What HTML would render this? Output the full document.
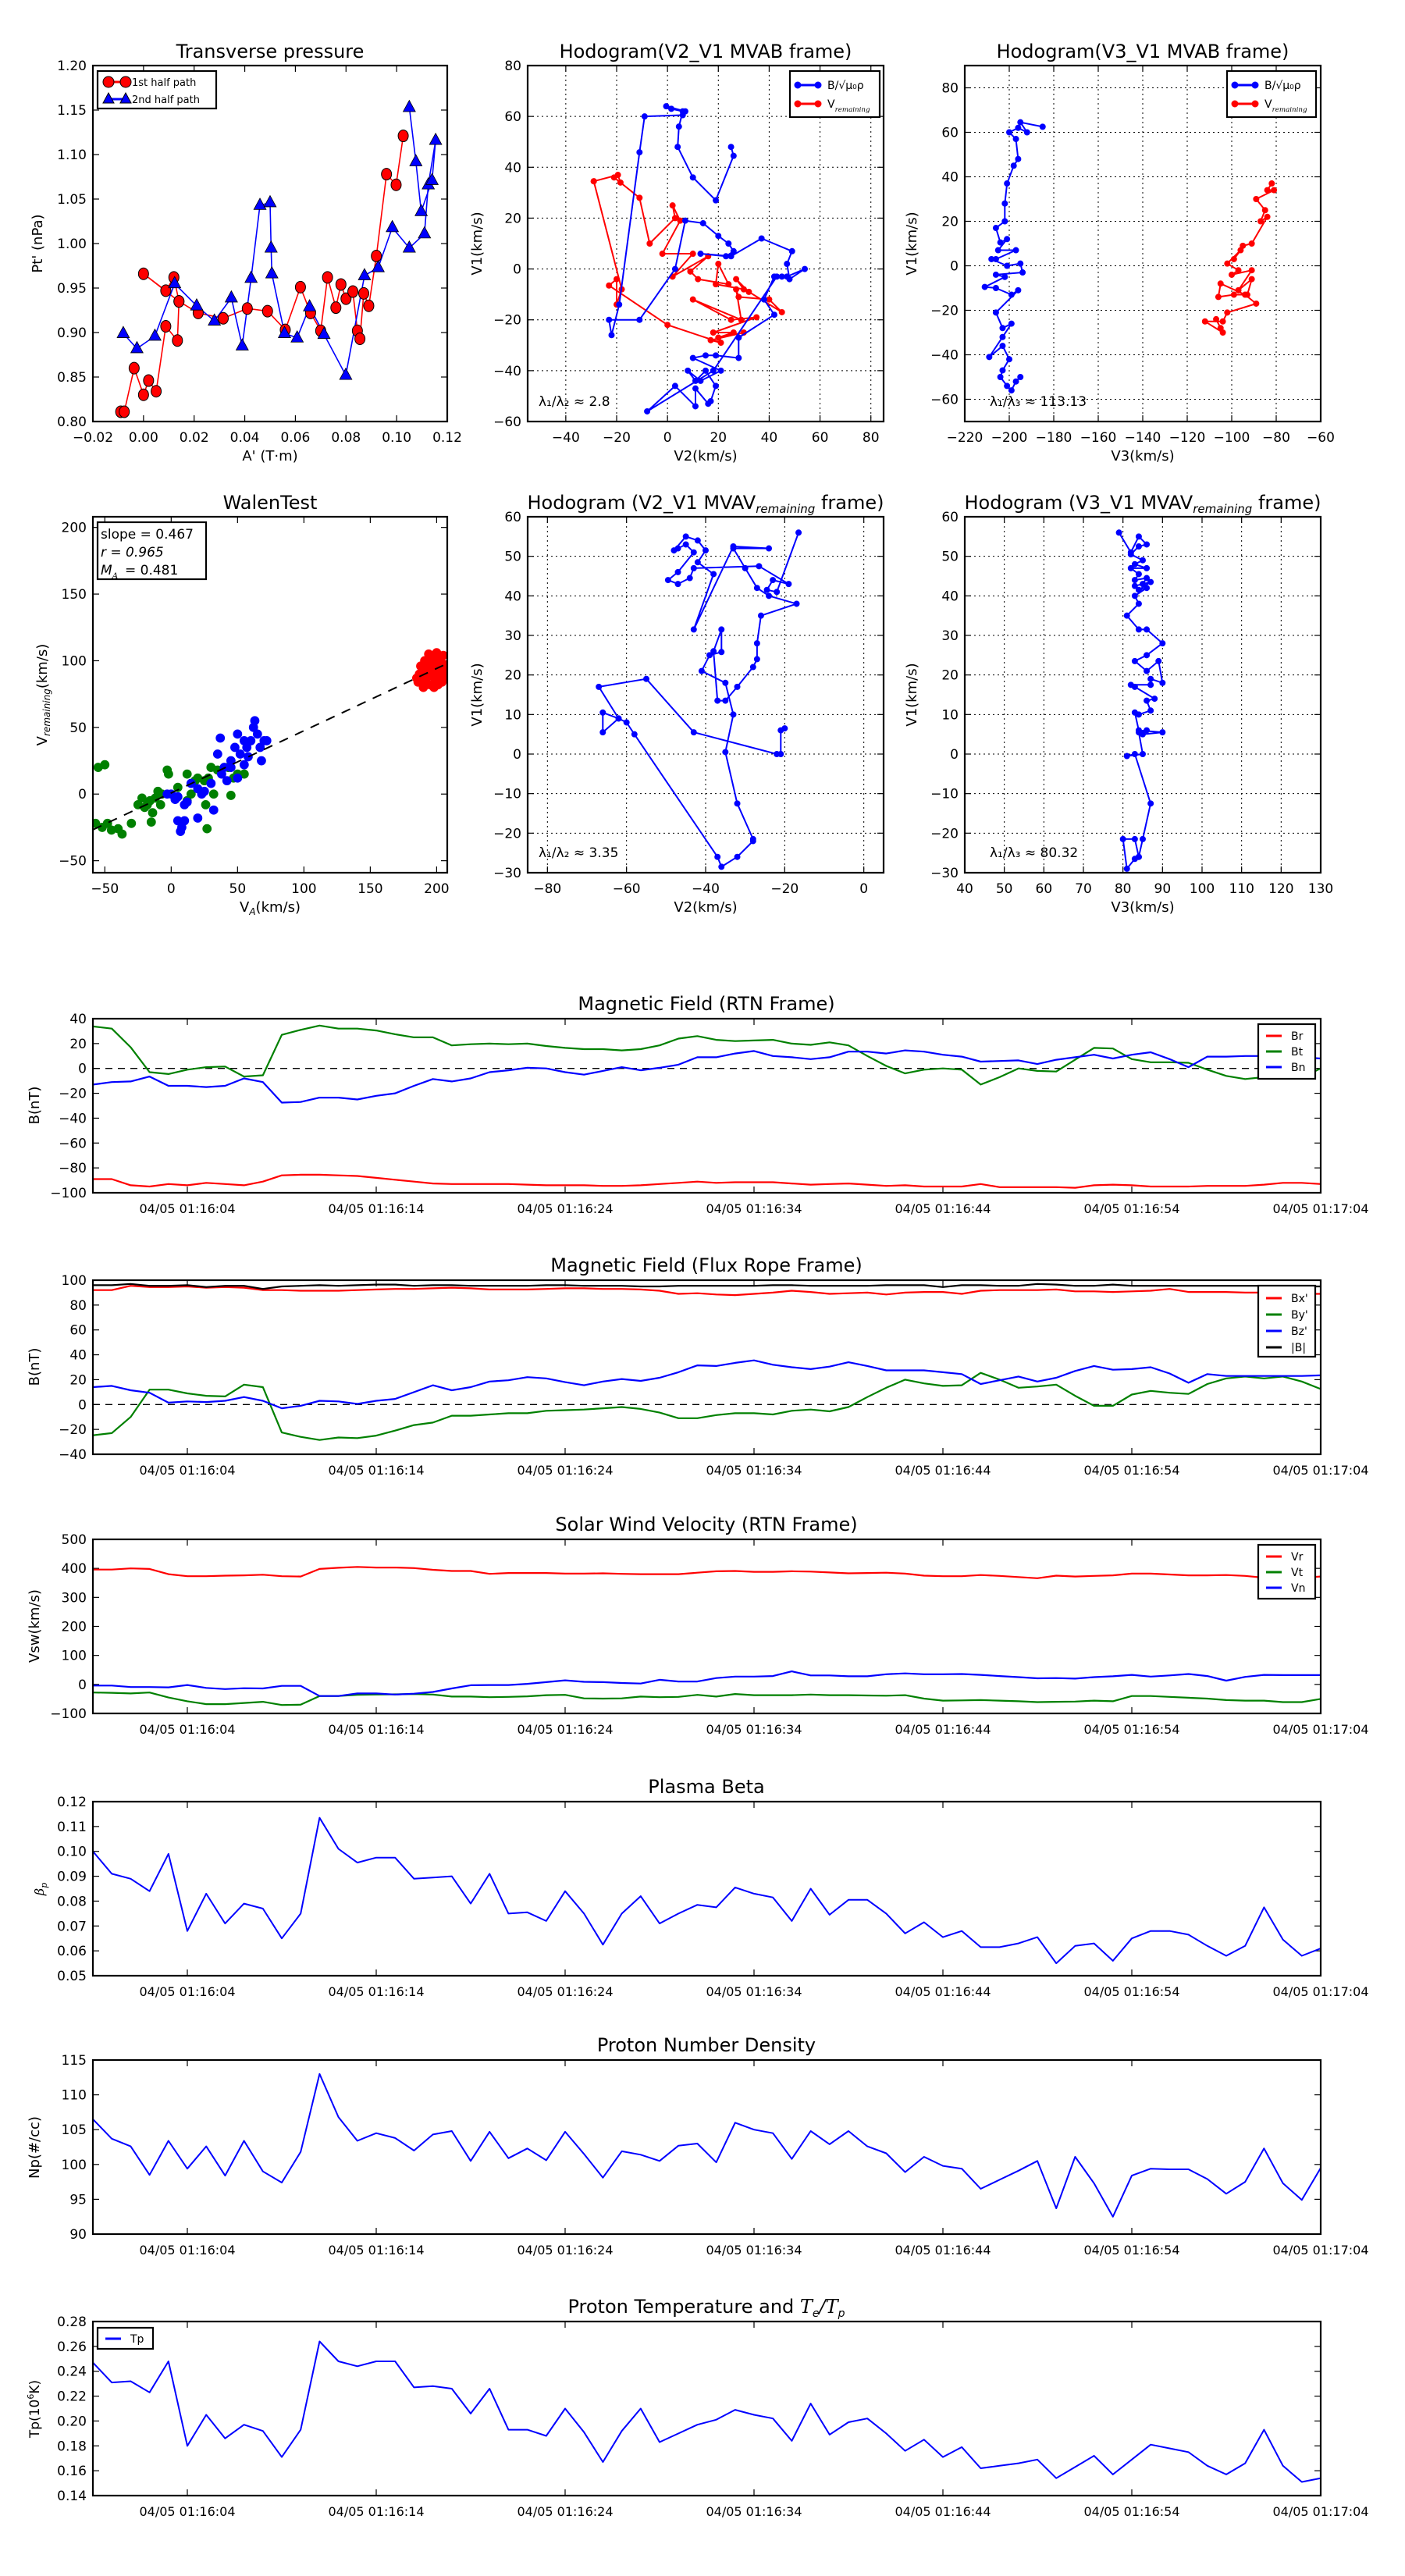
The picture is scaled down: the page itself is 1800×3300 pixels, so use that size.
<!DOCTYPE html>
<html><head><meta charset="utf-8"><title>Flux rope analysis</title>
<style>
html,body{margin:0;padding:0;background:#fff;}
svg{display:block;font-family:"DejaVu Sans","Liberation Sans",sans-serif;}
</style></head>
<body>
<svg id="fig" xmlns="http://www.w3.org/2000/svg" width="1800" height="3300" viewBox="0 0 1800 3300">
<rect x="0" y="0" width="1800" height="3300" fill="#fff"/>
</svg>
<script>
// ---------- time series data (1 s cadence, t = 0..65 s, 01:17:04 at t=65) ----------
const tickSec = [5,15,25,35,45,55,65];
const tickLabels = ["04/05 01:16:04","04/05 01:16:14","04/05 01:16:24","04/05 01:16:34","04/05 01:16:44","04/05 01:16:54","04/05 01:17:04"];
const Br = [-89,-89,-94,-95,-93,-94,-92,-93,-94,-91,-86,-85.5,-85.5,-86,-86.5,-88,-89.5,-91,-92.5,-93,-93,-93,-93,-93.5,-94,-94,-94,-94.5,-94.5,-94,-93,-92,-91,-92,-91.5,-91.5,-91.5,-92.5,-93.5,-93,-92.5,-93.5,-94.5,-94,-95,-95,-95,-93,-95.5,-95.5,-95.5,-95.5,-96,-94,-93.5,-94,-95,-95,-95,-94.5,-94.5,-94.5,-93.5,-92,-92,-93];
const Bt = [33.8,32,17,-3,-4.5,-1,1,1.5,-6.5,-5.5,27,31,34.5,32,32,30.5,27.5,25,25,18.5,19.5,20,19.5,20,18,16.5,15.5,15.5,14.5,15.5,18.5,24,26,23,22,22.5,23,20,19,21,18.5,10,2,-4,-1,0,-1,-13,-7,0,-2,-2.5,7,16.5,16,7.5,5,5,4.5,-1,-6,-8.5,-7,-7,-7.5,0];
const Bn = [-13,-11,-10.5,-6.5,-14,-14,-15,-14,-8,-11,-27.5,-27,-23.5,-23.5,-25,-22,-20,-14,-8.5,-10.5,-8,-3,-1.5,0.5,0,-3,-5,-2,1,-1.5,0.5,3,9,9,12,14,10,9,7.5,9,13.5,13.5,12,14.5,13.5,11,9.5,5.5,6,6.5,3.5,7,9,11,8,11,13,7.5,1,9.5,9.5,10,10,9,9,8];
const Bx = [92,92,95.5,94.5,94.5,95,94,94.5,94,92,92,91.5,91.5,91.5,92,92.5,93,93,93.5,94,93.5,92.5,92.5,92.5,93,93.5,93.5,93,93,92.5,91.5,89,89.5,88.5,88,89,90,91.5,90.5,89,89.5,90,88.5,90,90.5,90.5,89,91.5,92,92,92,92.5,91,91,90.5,91,91.5,93,90.5,90.5,90.5,90,90,89.5,89,89];
const By = [-24.75,-23,-10,12,12,9,7,6.5,16,14,-22.5,-26,-28.5,-26.5,-27,-25,-21,-16.5,-14.5,-9,-9,-8,-7,-7,-5,-4.5,-4,-3,-2,-3.5,-6.5,-11,-11,-8.5,-7,-7,-8,-5,-4,-5.5,-2,6,13.5,20,17,15,15.5,25.5,20,13.5,14.5,16,7,-1,-1,8,11,9.5,8.5,16.5,21,22.5,21,22.5,18.5,12.5];
const Bz = [14,15,11.5,9.5,1.5,2.5,2,3,6,3,-3,-1,3,2.5,0.5,3,4.5,10,15.5,11.5,14,18.5,19.5,22,21,18,15.5,18.5,20.5,19,21.5,26,31.5,31,33.5,35.5,32,30,28.5,30.5,34,31,27.5,27.5,27.5,26,24.5,16.5,19.5,22.5,18.5,21.5,27,31,28,28.5,30,25,17.5,24.5,23,23,23,23,23,23.5];
const Bmag = [96,96,97,95.5,95.5,96,94.5,95.5,95.5,93,95,95.5,96,95.5,96,96.5,96.5,95.5,96,96,95.5,95.5,95.5,95.5,96,96,95.5,95.5,95.5,95,95,95.5,95.5,95.5,95.5,95.5,96,96,95.5,95.5,95.5,95.5,96,96,96,94.5,96,96,95.5,95.5,97,96.5,95.5,95.5,96.5,95.5,95.5,95.5,95.5,95.5,95.5,95.5,95.5,95,95,95];
const Vr = [396,396,400,398,380,373,373,375,376,378,373,372,398,402,405,403,403,401,395,391,391,381,384,384,384,382,382,383,381,380,380,380,385,390,391,388,388,390,389,386,383,384,385,382,375,373,373,377,374,370,366,375,372,374,376,382,382,379,376,376,377,374,368,368,368,372];
const Vt = [-28,-29,-31,-28,-45,-58,-68,-68,-64,-60,-71,-70,-40,-40,-36,-35,-34,-33,-35,-42,-42,-44,-43,-41,-37,-36,-48,-49,-48,-42,-44,-43,-36,-42,-33,-37,-37,-37,-35,-37,-37,-38,-39,-37,-49,-56,-55,-54,-56,-58,-61,-60,-59,-56,-58,-40,-40,-43,-46,-49,-54,-56,-56,-61,-61,-50];
const Vn = [-4,-4,-9,-9,-10,-2,-12,-16,-13,-14,-5,-5,-40,-40,-31,-31,-35,-32,-26,-14,-3,-2,-2,2,8,14,9,8,5,3,16,10,10,22,27,27,29,45,31,31,28,28,35,38,35,35,36,33,29,25,21,22,20,25,28,33,27,31,36,29,13,26,33,32,32,32];
const beta = [0.100,0.091,0.089,0.084,0.099,0.068,0.083,0.071,0.079,0.077,0.065,0.075,0.1135,0.101,0.0955,0.0975,0.0975,0.089,0.0895,0.090,0.079,0.091,0.075,0.0755,0.072,0.084,0.075,0.0625,0.075,0.082,0.071,0.075,0.0785,0.0775,0.0855,0.083,0.0815,0.072,0.085,0.0745,0.0805,0.0805,0.075,0.067,0.0715,0.0655,0.068,0.0615,0.0615,0.063,0.0655,0.055,0.062,0.063,0.056,0.065,0.068,0.068,0.0665,0.062,0.058,0.062,0.0775,0.0645,0.058,0.061];
const Np = [106.5,103.7,102.6,98.5,103.4,99.4,102.6,98.4,103.4,99,97.4,101.8,113,106.8,103.4,104.5,103.8,102,104.3,104.8,100.5,104.7,100.9,102.3,100.6,104.7,101.5,98.1,101.9,101.4,100.5,102.7,103,100.3,106,105,104.5,100.8,104.8,102.9,104.8,102.6,101.6,98.9,101.1,99.8,99.4,96.5,97.8,99.1,100.5,93.7,101.1,97.3,92.5,98.4,99.4,99.3,99.3,97.9,95.8,97.5,102.3,97.3,94.9,99.5];
const Tp = [0.247,0.231,0.232,0.223,0.248,0.180,0.205,0.186,0.197,0.192,0.171,0.193,0.264,0.248,0.244,0.248,0.248,0.227,0.228,0.226,0.206,0.226,0.193,0.193,0.188,0.210,0.191,0.167,0.192,0.210,0.183,0.190,0.197,0.201,0.209,0.205,0.202,0.184,0.214,0.189,0.199,0.202,0.190,0.176,0.185,0.171,0.179,0.162,0.164,0.166,0.169,0.154,0.163,0.172,0.157,0.169,0.181,0.178,0.175,0.164,0.157,0.166,0.193,0.164,0.151,0.154];

// ---------- transverse pressure ----------
const ptRedA = [-0.009,-0.0076,-0.0037,0.0,0.002,0.005,0.0088,0.0134,0.014,0.012,0.0088,0.0,0.014,0.0216,0.0315,0.041,0.049,0.056,0.062,0.066,0.070,0.0727,0.076,0.078,0.080,0.0827,0.0845,0.0855,0.087,0.089,0.092,0.096,0.0998,0.1026];
const ptRedP = [0.811,0.811,0.860,0.830,0.846,0.834,0.907,0.891,0.935,0.962,0.947,0.966,0.935,0.922,0.916,0.927,0.924,0.903,0.951,0.922,0.902,0.962,0.928,0.954,0.938,0.946,0.902,0.893,0.944,0.930,0.986,1.078,1.066,1.121];
const ptBlueA = [-0.008,-0.0026,0.0045,0.0123,0.021,0.028,0.0347,0.039,0.0425,0.046,0.050,0.0504,0.0507,0.0557,0.0607,0.0656,0.0713,0.0799,0.0873,0.0927,0.0983,0.105,0.111,0.1125,0.1154,0.114,0.1097,0.1076,0.105];
const ptBlueP = [0.899,0.882,0.896,0.955,0.930,0.913,0.939,0.885,0.961,1.043,1.046,0.995,0.966,0.899,0.894,0.929,0.898,0.852,0.964,0.973,1.018,0.995,1.011,1.066,1.116,1.071,1.036,1.092,1.153];

// ---------- hodogram MVAB V2-V1 ----------
const hb2B_v2 = [25,26,19,10,4,4.5,6,1.5,-0.5,7,6,-9,-11,-19,-22,-23,-11,3,7,14,20,24,26,23,13,25,37,49,47,48,54,47,42,38,42,28,28,19,15,10,21,13,8,11,15,19,17,16,11,11,3,-8,18,43,45];
const hb2B_v1 = [48,44.5,27,36,48,56,62,63,64,62,60.5,60,45.9,-14,-26,-20,-20,0,19,18,13,10,7,5,6,5,12,7,2,-4,0,-3,-3,-12,-18,-27,-35,-34,-34,-35,-40,-44,-40,-44,-40,-46,-52,-53,-47,-54,-46,-56,-40,-3,-3];
const hb2R_v2 = [-29,-19.5,-18.5,-21,-11,-7,3,2,5,-2,10,2,16,9,12,24,20,19,30,27,32,45,40,28,27,29,10,25,35,18,26,20,30,17,21,0,-23,-20,-20,-18,-29];
const hb2R_v1 = [34.5,37,34,36,28,10,20,25,19,6,6,-3,5,-1,-4,-6,2,-6,-8,-4,-9,-17,-12,-11,-8,-20,-12,-20,-19,-25,-25,-27,-25,-28,-29,-22,-6.5,-4,-14,-8,34.5];

// ---------- hodogram MVAB V3-V1 ----------
const hb3B_v3 = [-185,-195,-192,-196,-200,-197,-196,-198,-201,-202,-202,-206,-204,-201,-205,-197,-206,-208,-201,-195,-194,-206,-202,-211,-206,-199,-196,-206,-203,-199,-203,-209,-203,-200,-203,-204,-201,-199,-197,-195];
const hb3B_v1 = [62.5,64.5,60,62,60,57,48,45,37,28,20,17,10.5,12,7,7,3,3,0,1,-3,-4,-5,-9.5,-10,-13,-11,-21,-28,-26,-32,-41,-36,-42,-47,-50,-54,-56,-52,-50];
const hb3R_v3 = [-82,-84,-81,-89,-85,-87,-84,-91,-95,-99,-96,-102,-97,-100,-91,-97,-91,-93,-99,-106,-105,-94,-89,-102,-104,-112,-104,-107,-105];
const hb3R_v1 = [37,34,34,30,25,20,22,10,9,3,7,1,-2,-4,-2,-11,-6,-13,-13,-14,-8,-13,-17,-21,-25,-25,-30,-24,-28];

// ---------- Walen test ----------
const walenSlope = 0.467;
const walenIntercept = 0.8;
const walenGreenVA = [-55,-50,-57,-52,-48,-45,-40,-37,-30,-15,-20,-22,-18,-16,-12,-10,-7,-3,-2,5,12,15,18,20,26,27,30,32,35,43,45,47,50,55,-14,-8,-25,12,25,28];
const walenGreenV = [20,22,-22,-25,-22,-27,-26,-30,-22,-21,-10,-3,-8,-5,-3,2,0,18,15,5,15,0,10,12,-8,-26,20,0,18,20,-1,12,15,15,-14,-8,-8,-5,10,12];
const walenBlueVA = [5,5,7,8,10,12,20,0,-3,3,20,23,30,32,35,37,40,45,45,48,50,52,55,55,57,60,62,63,65,67,70,68,72,42,38,58,50,15,25,10];
const walenBlueV = [-2,-20,-28,-25,-20,-6,-18,0,0,-4,4,0,8,-12,30,42,20,25,20,35,45,30,22,40,35,40,50,55,45,35,40,25,40,10,15,28,12,8,2,-8];
const walenRedVA = [188,190,192,194,196,198,200,202,204,206,186,190,193,197,199,201,203,205,188,195,200,205,191,196,202,187,194,199,204,207,185,198];
const walenRedV = [88,92,85,96,100,104,106,98,92,88,84,80,90,94,86,82,100,104,96,82,92,95,100,89,88,90,105,99,84,97,87,80];

// ---------- hodogram MVAV V2-V1 ----------
const hv2_v2 = [-16.5,-22,-24.5,-23,-19,-26.5,-43,-44,-47,-49.5,-47,-43,-45,-47,-48,-45,-42,-40,-42,-38,-43,-33,-24,-33,-30,-27,-24,-17,-26,-27,-27,-28,-32,-35,-37,-38,-36,-36,-39,-41,-35,-33,-35,-32,-28,-28,-32,-36,-37,-58,-60,-62,-66,-66,-62,-67,-55,-43,-22,-21,-21,-20];
const hv2_v1 = [56,41,41.5,44,43,47.5,47,44.5,43,44,46,51,53,52,51.5,55,54,51.5,48.5,45.5,31.5,52.5,52,52,47,42,40,38,35,28,24,22,17,13.5,13.5,26,31.5,25.8,25,21,18,10,0.5,-12.5,-21.5,-22,-26,-28.5,-26,5,8,9,5.5,10.5,9,17,19,5.5,0,0,6,6.5];

// ---------- hodogram MVAV V3-V1 ----------
const hv3_v3 = [79,82,84,86,84,82,85,83,86,82,84,83,86,85,83,87,84,86,83,84,81,84,86,90,86,83,86,89,90,87,87,82,83,88,86,87,84,83,84,90,85,86,84,85,81,83,87,85,84,83,81,80,83,84];
const hv3_v1 = [56,51,55,53,52.5,50.5,49,48,47,47,45.5,44,44.5,43,42.5,43.5,41.5,42,40,38,35,31.5,31.5,28,25,23.5,21,23.5,18,19,17.5,17.5,17,14,13.5,11,10,10.5,6,5.5,5,6,5.5,0,-0.5,0,-12.5,-21.5,-26,-26.5,-29,-21.5,-21.5,-26];

// ---------------- drawing helpers ----------------
const NS = "http://www.w3.org/2000/svg";
const svg = document.getElementById("fig");
function el(tag, attrs, parent, name, inter) {
  const e = document.createElementNS(NS, tag);
  for (const k in attrs) e.setAttribute(k, attrs[k]);
  
  
  (parent || svg).appendChild(e);
  return e;
}
function txt(s, attrs, parent, name) {
  const e = el("text", attrs, parent, name, false);
  e.textContent = s;
  return e;
}
function fmtNum(v, d) {
  let s = v.toFixed(d);
  if (parseFloat(s) === 0) s = (0).toFixed(d);
  return s.replace("-", "\u2212");
}
function axes(o) {
  const g = el("g", {}, svg, o.name, false);
  const sx = v => o.x + (v - o.xd[0]) / (o.xd[1] - o.xd[0]) * o.w;
  const sy = v => o.y + o.h - (v - o.yd[0]) / (o.yd[1] - o.yd[0]) * o.h;
  const tl = 8;
  if (o.grid) {
    o.xt.forEach(v => { el("line", {x1: sx(v), x2: sx(v), y1: o.y, y2: o.y + o.h, stroke: "#000", "stroke-width": 1, "stroke-dasharray": "2,4"}, g, "x-grid-line", false); });
    o.yt.forEach(v => { el("line", {x1: o.x, x2: o.x + o.w, y1: sy(v), y2: sy(v), stroke: "#000", "stroke-width": 1, "stroke-dasharray": "2,4"}, g, "y-grid-line", false); });
  }
  o.xt.forEach((v, i) => {
    const X = sx(v);
    el("line", {x1: X, x2: X, y1: o.y + o.h, y2: o.y + o.h - tl, stroke: "#000", "stroke-width": 1.2}, g, "x-tick", false);
    el("line", {x1: X, x2: X, y1: o.y, y2: o.y + tl, stroke: "#000", "stroke-width": 1.2}, g, "x-tick-top", false);
    txt(o.xl(v, i), {x: X, y: o.y + o.h + 26, "text-anchor": "middle", "font-size": o.xfs || 17}, g, "x-tick-label");
  });
  o.yt.forEach((v, i) => {
    const Y = sy(v);
    el("line", {x1: o.x, x2: o.x + tl, y1: Y, y2: Y, stroke: "#000", "stroke-width": 1.2}, g, "y-tick", false);
    el("line", {x1: o.x + o.w, x2: o.x + o.w - tl, y1: Y, y2: Y, stroke: "#000", "stroke-width": 1.2}, g, "y-tick-right", false);
    txt(o.yl(v, i), {x: o.x - 8, y: Y + 6, "text-anchor": "end", "font-size": 17}, g, "y-tick-label");
  });
  const clipId = "clip_" + o.name;
  const cp = el("clipPath", {id: clipId}, g, "clip-region", false);
  el("rect", {x: o.x, y: o.y, width: o.w, height: o.h}, cp, "clip-rect", false);
  const plot = el("g", {"clip-path": "url(#" + clipId + ")"}, g, "plot-area", false);
  el("rect", {x: o.x, y: o.y, width: o.w, height: o.h, fill: "none", stroke: "#000", "stroke-width": 2.2}, g, "axes-frame", false);
  return {g, plot, sx, sy};
}
function range(a, b, s) { const r = []; for (let v = a; v <= b + 1e-9; v += s) r.push(+v.toFixed(6)); return r; }
function linePath(xs, ys, A) {
  let d = "";
  for (let i = 0; i < Math.min(xs.length, ys.length); i++) d += (i ? "L" : "M") + A.sx(xs[i]).toFixed(1) + "," + A.sy(ys[i]).toFixed(1);
  return d;
}
function series(A, xs, ys, color, name, w) {
  return el("path", {d: linePath(xs, ys, A), fill: "none", stroke: color, "stroke-width": w || 2, "stroke-linejoin": "round"}, A.plot, name, false);
}
function dots(A, xs, ys, color, r, name) {
  for (let i = 0; i < Math.min(xs.length, ys.length); i++) {
    el("circle", {cx: A.sx(xs[i]), cy: A.sy(ys[i]), r: r, fill: color, stroke: color, "stroke-width": 0.8}, A.plot, name, false);
  }
}
function tris(A, xs, ys, color, s, name) {
  for (let i = 0; i < Math.min(xs.length, ys.length); i++) {
    const X = A.sx(xs[i]), Y = A.sy(ys[i]);
    el("polygon", {points: `${X},${Y - s} ${X - s * 0.87},${Y + s * 0.6} ${X + s * 0.87},${Y + s * 0.6}`, fill: color, stroke: "#000", "stroke-width": 0.8}, A.plot, name, false);
  }
}
function title(s, cx, y, name) { return txt(s, {x: cx, y: y, "text-anchor": "middle", "font-size": 24}, svg, name); }
function ylab(s, x, cy, name, fs) { return txt(s, {x: x, y: cy, "text-anchor": "middle", "font-size": fs || 18, transform: `rotate(-90 ${x} ${cy})`}, svg, name); }
function xlab(s, cx, y, name) { return txt(s, {x: cx, y: y, "text-anchor": "middle", "font-size": 18}, svg, name); }
function withSub(parent, base, sub, name, attrs) {
  const t = el("text", attrs, parent, name, false);
  const a = document.createElementNS(NS, "tspan"); a.textContent = base; t.appendChild(a);
  const b = document.createElementNS(NS, "tspan"); b.textContent = sub;
  b.setAttribute("font-size", "0.62em"); b.setAttribute("font-style", "italic"); b.setAttribute("font-family", "DejaVu Serif, serif"); b.setAttribute("dy", "5");
  t.appendChild(b);
  return t;
}
function legendBox(x, y, w, h, items, name, lw) {
  const g = el("g", {}, svg, name, false);
  el("rect", {x: x, y: y, width: w, height: h, fill: "#fff", stroke: "#000", "stroke-width": 2.2}, g, "legend-frame", false);
  items.forEach((it, i) => {
    const Y = y + it.dy;
    el("line", {x1: x + 10, x2: x + 10 + (lw || 24), y1: Y, y2: Y, stroke: it.c, "stroke-width": 3}, g, "legend-line", false);
    if (it.marker === "o") { el("circle", {cx: x + 10, cy: Y, r: it.r || 4, fill: it.c, stroke: it.c}, g, "legend-marker", false); el("circle", {cx: x + 10 + (lw || 24), cy: Y, r: it.r || 4, fill: it.c, stroke: it.c}, g, "legend-marker", false); }
    if (it.marker === "oc") { el("circle", {cx: x + 14, cy: Y, r: 7, fill: it.c, stroke: "#000"}, g, "legend-marker", false); el("circle", {cx: x + 36, cy: Y, r: 7, fill: it.c, stroke: "#000"}, g, "legend-marker", false); }
    if (it.marker === "t") { [x + 14, x + 36].forEach(X => { el("polygon", {points: `${X},${Y - 8} ${X - 7},${Y + 5} ${X + 7},${Y + 5}`, fill: it.c, stroke: "#000"}, g, "legend-marker", false); }); }
    if (it.sub) withSub(g, it.label, it.sub, "legend-label", {x: x + 10 + (lw || 24) + 12, y: Y + 5, "font-size": it.fs || 14});
    else txt(it.label, {x: x + 10 + (lw || 24) + 12, y: Y + 5, "font-size": it.fs || 14}, g, "legend-label");
  });
  return g;
}

// ================= ROW 1 =================
// Transverse pressure
const A1 = axes({name: "transverse-pressure-axes", x: 119, y: 84, w: 454, h: 456, xd: [-0.02, 0.12], yd: [0.80, 1.20],
  xt: range(-0.02, 0.12, 0.02), yt: range(0.80, 1.20, 0.05), xl: v => fmtNum(v, 2), yl: v => fmtNum(v, 2)});
series(A1, ptRedA, ptRedP, "#ff0000", "first-half-path-line", 1.6);
series(A1, ptBlueA, ptBlueP, "#0000ff", "second-half-path-line", 1.6);
A1.plot.setAttribute("data-keep", "1");
(function () { // markers
  for (let i = 0; i < ptRedA.length; i++) {
    el("ellipse", {cx: A1.sx(ptRedA[i]), cy: A1.sy(ptRedP[i]), rx: 6.5, ry: 7.5, fill: "#ff0000", stroke: "#000", "stroke-width": 1}, A1.plot, "first-half-point", false);
  }
})();
tris(A1, ptBlueA, ptBlueP, "#0000ff", 9, "second-half-point");
title("Transverse pressure", 346, 74, "transverse-pressure-title");
ylab("Pt' (nPa)", 54, 312, "pt-y-axis-title");
xlab("A' (T\u00b7m)", 346, 590, "a-prime-x-axis-title");
legendBox(125, 91, 152, 48, [{c: "#ff0000", marker: "oc", label: "1st half path", dy: 14, fs: 13}, {c: "#0000ff", marker: "t", label: "2nd half path", dy: 36, fs: 13}], "pressure-legend", 22);

// Hodogram MVAB V2-V1
const A2 = axes({name: "hodogram-v2-v1-mvab-axes", x: 676, y: 84, w: 456, h: 456, xd: [-55, 85], yd: [-60, 80], grid: true,
  xt: range(-40, 80, 20), yt: range(-60, 80, 20), xl: v => fmtNum(v, 0), yl: v => fmtNum(v, 0)});
series(A2, hb2R_v2, hb2R_v1, "#ff0000", "v-remaining-path", 2);
dots(A2, hb2R_v2, hb2R_v1, "#ff0000", 3.6, "v-remaining-point");
series(A2, hb2B_v2, hb2B_v1, "#0000ff", "b-alfven-path", 2);
dots(A2, hb2B_v2, hb2B_v1, "#0000ff", 3.6, "b-alfven-point");
title("Hodogram(V2_V1 MVAB frame)", 904, 74, "hodogram-mvab-v2-title");
ylab("V1(km/s)", 617, 312, "v1-y-axis-title");
xlab("V2(km/s)", 904, 590, "v2-x-axis-title");
legendBox(1012, 91, 115, 59, [{c: "#0000ff", marker: "o", label: "B/\u221a\u03bc\u2080\u03c1", dy: 18}, {c: "#ff0000", marker: "o", label: "V", sub: "remaining", dy: 42}], "hodogram-mvab-v2-legend", 26);
withSub(svg, "\u03bb\u2081/\u03bb\u2082 \u2248 2.8", "", "eigen-ratio-mvab-v2", {x: 690, y: 520, "font-size": 17});

// Hodogram MVAB V3-V1
const A3 = axes({name: "hodogram-v3-v1-mvab-axes", x: 1236, y: 84, w: 456, h: 456, xd: [-220, -60], yd: [-70, 90], grid: true,
  xt: range(-220, -60, 20), yt: range(-60, 80, 20), xl: v => fmtNum(v, 0), yl: v => fmtNum(v, 0)});
series(A3, hb3R_v3, hb3R_v1, "#ff0000", "v-remaining-path", 2);
dots(A3, hb3R_v3, hb3R_v1, "#ff0000", 3.6, "v-remaining-point");
series(A3, hb3B_v3, hb3B_v1, "#0000ff", "b-alfven-path", 2);
dots(A3, hb3B_v3, hb3B_v1, "#0000ff", 3.6, "b-alfven-point");
title("Hodogram(V3_V1 MVAB frame)", 1464, 74, "hodogram-mvab-v3-title");
ylab("V1(km/s)", 1174, 312, "v1-y-axis-title");
xlab("V3(km/s)", 1464, 590, "v3-x-axis-title");
legendBox(1572, 91, 114, 59, [{c: "#0000ff", marker: "o", label: "B/\u221a\u03bc\u2080\u03c1", dy: 18}, {c: "#ff0000", marker: "o", label: "V", sub: "remaining", dy: 42}], "hodogram-mvab-v3-legend", 26);
txt("\u03bb\u2081/\u03bb\u2083 \u2248 113.13", {x: 1268, y: 520, "font-size": 17}, svg, "eigen-ratio-mvab-v3");

// ================= ROW 2 =================
const A4 = axes({name: "walen-test-axes", x: 119, y: 662, w: 454, h: 456, xd: [-59, 208], yd: [-59, 208],
  xt: range(-50, 200, 50), yt: range(-50, 200, 50), xl: v => fmtNum(v, 0), yl: v => fmtNum(v, 0)});
dots(A4, walenGreenVA, walenGreenV, "#008000", 5.5, "walen-green-point");
dots(A4, walenBlueVA, walenBlueV, "#0000ff", 5.5, "walen-blue-point");
dots(A4, walenRedVA, walenRedV, "#ff0000", 5.5, "walen-red-point");
el("line", {x1: A4.sx(-59), y1: A4.sy(walenSlope * -59 + walenIntercept), x2: A4.sx(205), y2: A4.sy(walenSlope * 205 + walenIntercept), stroke: "#000", "stroke-width": 2, "stroke-dasharray": "12,10"}, A4.plot, "walen-fit-line", false);
title("WalenTest", 346, 652, "walen-test-title");
(function () {
  const t = el("text", {x: 60, y: 890, "text-anchor": "middle", "font-size": 18, transform: "rotate(-90 60 890)"}, svg, "walen-y-axis-title", false);
  const a = document.createElementNS(NS, "tspan"); a.textContent = "V"; t.appendChild(a);
  const b = document.createElementNS(NS, "tspan"); b.textContent = "remaining"; b.setAttribute("font-size", "12"); b.setAttribute("font-style", "italic"); b.setAttribute("dy", "4"); t.appendChild(b);
  const c = document.createElementNS(NS, "tspan"); c.textContent = "(km/s)"; c.setAttribute("dy", "-4"); t.appendChild(c);
})();
(function () {
  const t = el("text", {x: 346, y: 1168, "text-anchor": "middle", "font-size": 18}, svg, "walen-x-axis-title", false);
  const a = document.createElementNS(NS, "tspan"); a.textContent = "V"; t.appendChild(a);
  const b = document.createElementNS(NS, "tspan"); b.textContent = "A"; b.setAttribute("font-size", "12"); b.setAttribute("font-style", "italic"); b.setAttribute("dy", "4"); t.appendChild(b);
  const c = document.createElementNS(NS, "tspan"); c.textContent = "(km/s)"; c.setAttribute("dy", "-4"); t.appendChild(c);
})();
(function () {
  const g = el("g", {}, svg, "walen-stats-box", false);
  el("rect", {x: 125, y: 669, width: 139, height: 73, fill: "#fff", stroke: "#000", "stroke-width": 2.2}, g, "stats-frame", false);
  txt("slope = 0.467", {x: 129, y: 690, "font-size": 17}, g, "slope-text");
  txt("r = 0.965", {x: 129, y: 713, "font-size": 17, "font-style": "italic"}, g, "correlation-text");
  withSub(g, "M", "A", "alfven-mach-text", {x: 129, y: 736, "font-size": 17, "font-style": "italic"});
  txt("= 0.481", {x: 160, y: 736, "font-size": 17}, g, "alfven-mach-value");
})();

const A5 = axes({name: "hodogram-v2-v1-mvav-axes", x: 676, y: 662, w: 456, h: 456, xd: [-85, 5], yd: [-30, 60], grid: true,
  xt: range(-80, 0, 20), yt: range(-30, 60, 10), xl: v => fmtNum(v, 0), yl: v => fmtNum(v, 0)});
series(A5, hv2_v2, hv2_v1, "#0000ff", "mvav-v2-path", 2);
dots(A5, hv2_v2, hv2_v1, "#0000ff", 3.6, "mvav-v2-point");
(function () {
  const t = el("text", {x: 904, y: 652, "text-anchor": "middle", "font-size": 24}, svg, "hodogram-mvav-v2-title", false);
  const a = document.createElementNS(NS, "tspan"); a.textContent = "Hodogram (V2_V1 MVAV"; t.appendChild(a);
  const b = document.createElementNS(NS, "tspan"); b.textContent = "remaining"; b.setAttribute("font-size", "15"); b.setAttribute("font-style", "italic"); b.setAttribute("dy", "5"); t.appendChild(b);
  const c = document.createElementNS(NS, "tspan"); c.textContent = " frame)"; c.setAttribute("dy", "-5"); t.appendChild(c);
})();
ylab("V1(km/s)", 617, 890, "v1-y-axis-title");
xlab("V2(km/s)", 904, 1168, "v2-x-axis-title");
txt("\u03bb\u2081/\u03bb\u2082 \u2248 3.35", {x: 690, y: 1098, "font-size": 17}, svg, "eigen-ratio-mvav-v2");

const A6 = axes({name: "hodogram-v3-v1-mvav-axes", x: 1236, y: 662, w: 456, h: 456, xd: [40, 130], yd: [-30, 60], grid: true,
  xt: range(40, 130, 10), yt: range(-30, 60, 10), xl: v => fmtNum(v, 0), yl: v => fmtNum(v, 0)});
series(A6, hv3_v3, hv3_v1, "#0000ff", "mvav-v3-path", 2);
dots(A6, hv3_v3, hv3_v1, "#0000ff", 3.6, "mvav-v3-point");
(function () {
  const t = el("text", {x: 1464, y: 652, "text-anchor": "middle", "font-size": 24}, svg, "hodogram-mvav-v3-title", false);
  const a = document.createElementNS(NS, "tspan"); a.textContent = "Hodogram (V3_V1 MVAV"; t.appendChild(a);
  const b = document.createElementNS(NS, "tspan"); b.textContent = "remaining"; b.setAttribute("font-size", "15"); b.setAttribute("font-style", "italic"); b.setAttribute("dy", "5"); t.appendChild(b);
  const c = document.createElementNS(NS, "tspan"); c.textContent = " frame)"; c.setAttribute("dy", "-5"); t.appendChild(c);
})();
ylab("V1(km/s)", 1174, 890, "v1-y-axis-title");
xlab("V3(km/s)", 1464, 1168, "v3-x-axis-title");
txt("\u03bb\u2081/\u03bb\u2083 \u2248 80.32", {x: 1268, y: 1098, "font-size": 17}, svg, "eigen-ratio-mvav-v3");

// ================= TIME SERIES =================
const T = Br.map((_, i) => i);
function tsAxes(name, top, yd, yt, dec) {
  return axes({name: name, x: 119, y: top, w: 1573, h: 223, xd: [0, 65], yd: yd, xt: tickSec, yt: yt,
    xl: (v, i) => tickLabels[i], yl: v => fmtNum(v, dec), xfs: 16});
}
function zeroLine(A, xd) {
  el("line", {x1: A.sx(0), x2: A.sx(65), y1: A.sy(0), y2: A.sy(0), stroke: "#000", "stroke-width": 1.4, "stroke-dasharray": "9,7"}, A.plot, "zero-reference-line", false);
}
// Magnetic Field RTN
const B1 = tsAxes("magnetic-field-rtn-axes", 1305, [-100, 40], range(-100, 40, 20), 0);
zeroLine(B1);
series(B1, T, Br, "#ff0000", "br-line", 2.2);
series(B1, T, Bt, "#008000", "bt-line", 2.2);
series(B1, T, Bn, "#0000ff", "bn-line", 2.2);
title("Magnetic Field (RTN Frame)", 905, 1294, "magnetic-field-rtn-title");
ylab("B(nT)", 50, 1416, "b-rtn-y-axis-title");
legendBox(1612, 1312, 73, 70, [{c: "#ff0000", label: "Br", dy: 15}, {c: "#008000", label: "Bt", dy: 35}, {c: "#0000ff", label: "Bn", dy: 55}], "magnetic-rtn-legend", 20);

// Magnetic Field Flux Rope
const B2 = tsAxes("magnetic-field-flux-rope-axes", 1640, [-40, 100], range(-40, 100, 20), 0);
zeroLine(B2);
series(B2, T, Bx, "#ff0000", "bx-prime-line", 2.2);
series(B2, T, By, "#008000", "by-prime-line", 2.2);
series(B2, T, Bz, "#0000ff", "bz-prime-line", 2.2);
series(B2, T, Bmag, "#000000", "b-magnitude-line", 2.2);
title("Magnetic Field (Flux Rope Frame)", 905, 1629, "magnetic-field-flux-rope-title");
ylab("B(nT)", 50, 1751, "b-flux-rope-y-axis-title");
legendBox(1612, 1647, 73, 91, [{c: "#ff0000", label: "Bx'", dy: 16}, {c: "#008000", label: "By'", dy: 37}, {c: "#0000ff", label: "Bz'", dy: 58}, {c: "#000000", label: "|B|", dy: 79}], "flux-rope-legend", 20);

// Solar wind velocity
const B3 = tsAxes("solar-wind-velocity-axes", 1972, [-100, 500], range(-100, 500, 100), 0);
series(B3, T, Vr, "#ff0000", "vr-line", 2.2);
series(B3, T, Vt, "#008000", "vt-line", 2.2);
series(B3, T, Vn, "#0000ff", "vn-line", 2.2);
title("Solar Wind Velocity (RTN Frame)", 905, 1961, "solar-wind-velocity-title");
ylab("Vsw(km/s)", 50, 2083, "vsw-y-axis-title");
legendBox(1612, 1979, 73, 69, [{c: "#ff0000", label: "Vr", dy: 15}, {c: "#008000", label: "Vt", dy: 35}, {c: "#0000ff", label: "Vn", dy: 55}], "solar-wind-legend", 20);

// Plasma beta
const B4 = tsAxes("plasma-beta-axes", 2308, [0.05, 0.12], range(0.05, 0.12, 0.01), 2);
series(B4, T, beta, "#0000ff", "plasma-beta-line", 2);
title("Plasma Beta", 905, 2297, "plasma-beta-title");
(function () {
  const t = el("text", {x: 56, y: 2420, "text-anchor": "middle", "font-size": 16, "font-style": "italic", "font-family": "DejaVu Serif, serif", transform: "rotate(-90 56 2420)"}, svg, "beta-y-axis-title", false);
  t.textContent = "\u03b2";
  const b = document.createElementNS(NS, "tspan"); b.textContent = "p"; b.setAttribute("font-size", "11"); b.setAttribute("dy", "4"); t.appendChild(b);
})();

// Proton density
const B5 = tsAxes("proton-density-axes", 2639, [90, 115], range(90, 115, 5), 0);
series(B5, T, Np, "#0000ff", "proton-density-line", 2);
title("Proton Number Density", 905, 2628, "proton-density-title");
ylab("Np(#/cc)", 50, 2751, "np-y-axis-title");

// Proton temperature
const B6 = tsAxes("proton-temperature-axes", 2974, [0.14, 0.28], range(0.14, 0.28, 0.02), 2);
series(B6, T, Tp, "#0000ff", "proton-temperature-line", 2);
(function () {
  const t = el("text", {x: 905, y: 2963, "text-anchor": "middle", "font-size": 24}, svg, "proton-temperature-title", false);
  const a = document.createElementNS(NS, "tspan"); a.textContent = "Proton Temperature and "; t.appendChild(a);
  const b = document.createElementNS(NS, "tspan"); b.textContent = "T"; b.setAttribute("font-style", "italic"); b.setAttribute("font-family", "DejaVu Serif, serif"); t.appendChild(b);
  const c = document.createElementNS(NS, "tspan"); c.textContent = "e"; c.setAttribute("font-size", "14"); c.setAttribute("font-style", "italic"); c.setAttribute("dy", "5"); t.appendChild(c);
  const d = document.createElementNS(NS, "tspan"); d.textContent = "/T"; d.setAttribute("font-style", "italic"); d.setAttribute("font-family", "DejaVu Serif, serif"); d.setAttribute("dy", "-5"); t.appendChild(d);
  const e = document.createElementNS(NS, "tspan"); e.textContent = "p"; e.setAttribute("font-size", "14"); e.setAttribute("font-style", "italic"); e.setAttribute("dy", "5"); t.appendChild(e);
})();
(function () {
  const t = el("text", {x: 50, y: 3086, "text-anchor": "middle", "font-size": 17, transform: "rotate(-90 50 3086)"}, svg, "tp-y-axis-title", false);
  t.textContent = "Tp(10";
  const b = document.createElementNS(NS, "tspan"); b.textContent = "6"; b.setAttribute("font-size", "11"); b.setAttribute("dy", "-7"); t.appendChild(b);
  const c = document.createElementNS(NS, "tspan"); c.textContent = "K)"; c.setAttribute("dy", "7"); t.appendChild(c);
})();
legendBox(125, 2982, 71, 27, [{c: "#0000ff", label: "Tp", dy: 14}], "temperature-legend", 20);
</script>
</body></html>
